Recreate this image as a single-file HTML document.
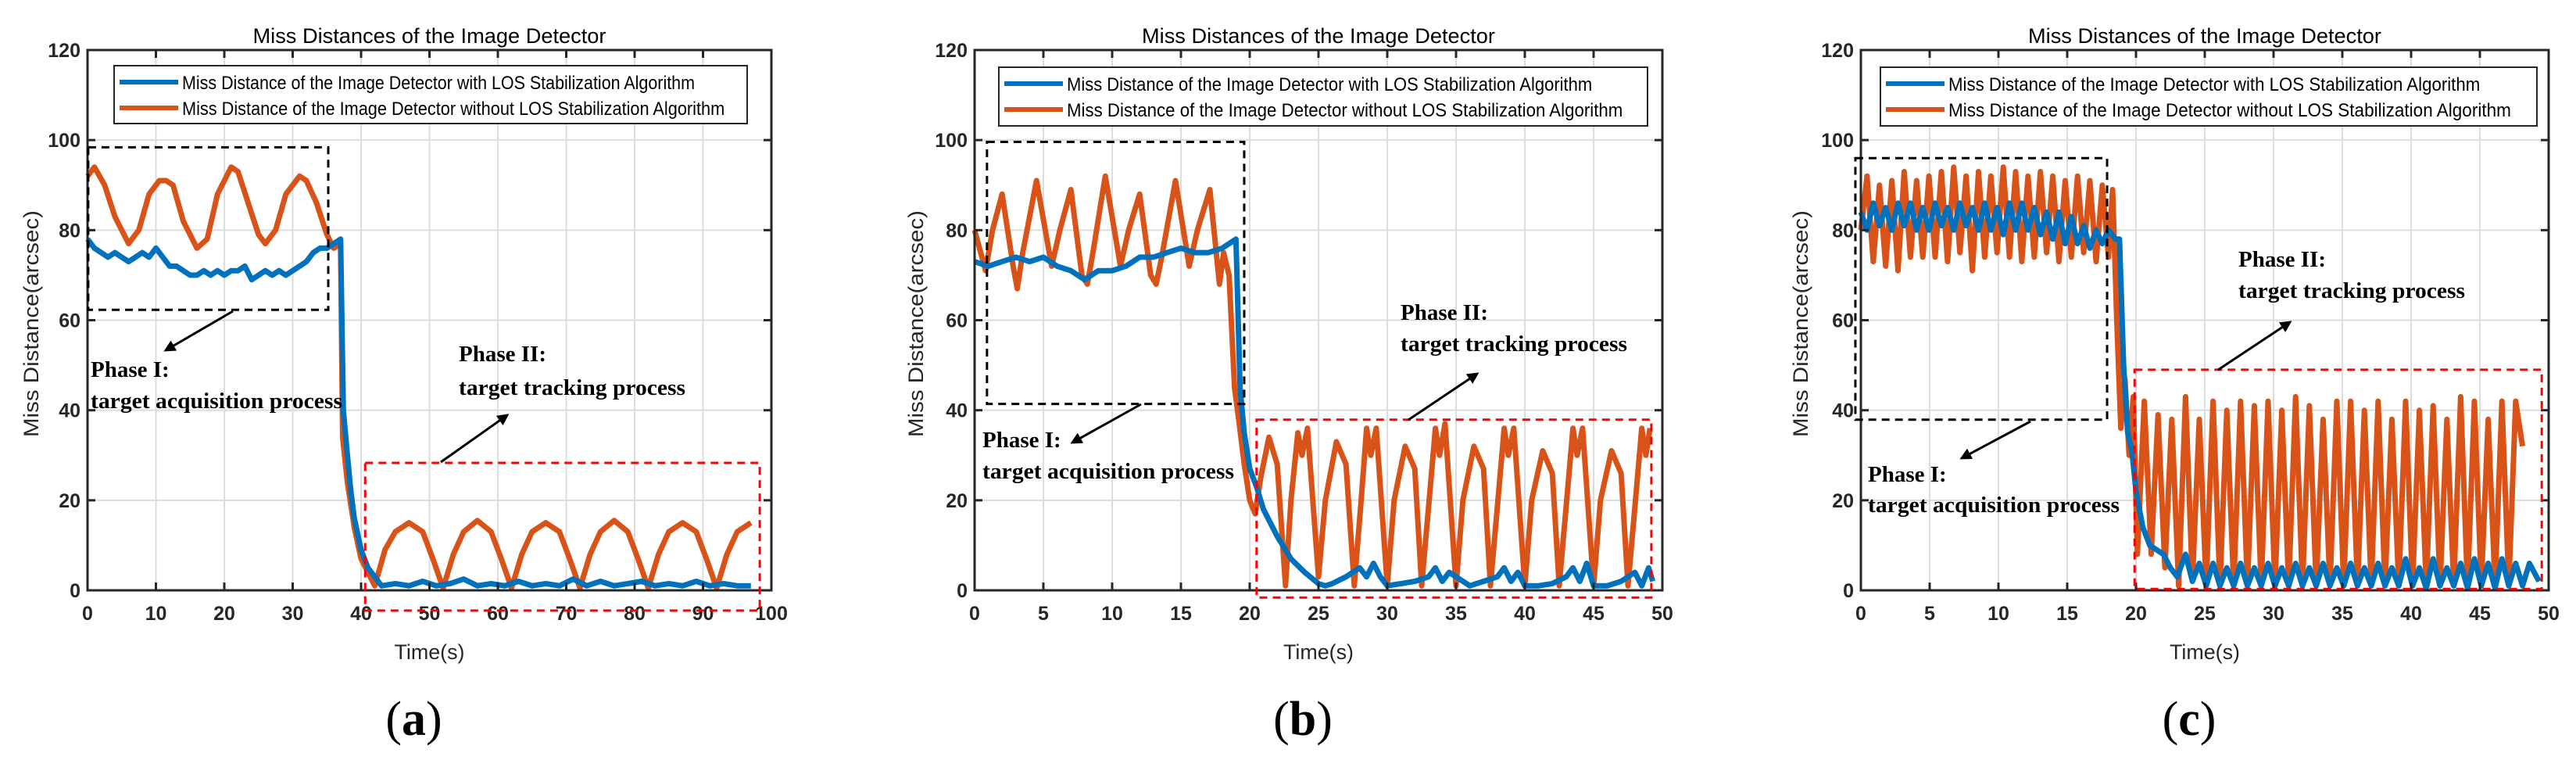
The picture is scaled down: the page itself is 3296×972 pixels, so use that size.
<!DOCTYPE html>
<html><head><meta charset="utf-8">
<style>
html,body{margin:0;padding:0;background:#fff;}
svg{display:block;}
.tick{font-family:"Liberation Sans",Arial,sans-serif;font-size:25px;font-weight:bold;fill:#262626;}
.leg{font-family:"Liberation Sans",Arial,sans-serif;font-size:24px;fill:#000;}
.ttl{font-family:"Liberation Sans",Arial,sans-serif;font-size:27px;fill:#000;}
.lab{font-family:"Liberation Sans",Arial,sans-serif;font-size:27px;fill:#262626;}
.ph{font-family:"Liberation Serif","Times New Roman",serif;font-size:29px;font-weight:bold;fill:#000;}
.cap{font-family:"Liberation Serif","Times New Roman",serif;font-size:62px;fill:#000;}
</style></head>
<body>
<svg id="fig" width="3296" height="972" viewBox="0 0 3296 972" xmlns="http://www.w3.org/2000/svg"></svg>
<script>
// ---------- Panel (a) data ----------
const aXTicks = [0,10,20,30,40,50,60,70,80,90,100];
const aOrangeT = [0,1,2.5,4,6,7.5,9,10.5,11.5,12.5,14,16,17.5,19,21,22,23.5,25,26,27.5,29,31,32,33.5,35,36,37,37.3,38,39,40,41,42,43.5,45,47,49,50.5,52,53.5,55,57,59,60.5,62,63.5,65,67,69,70.5,72,73.5,75,77,79,80.5,82,83.5,85,87,89,90.5,92,93.5,95,97];
const aOrange  = [92,94,90,83,77,80,88,91,91,90,82,76,78,88,94,93,86,79,77,80,88,92,91,86,79,76,77,34,24,14,7,4,1,9,13,15,13,7,0.5,8,13,15.5,13,7,0.5,8,13,15,13,7,0.5,8,13,15.5,13,7,0.5,8,13,15,13,7,0.5,8,13,15];
const aBlueT = [0,1,2,3,4,5,6,7,8,9,10,11,12,13,14,15,16,17,18,19,20,21,22,23,24,25,26,27,28,29,30,31,32,33,34,35,36,37,37.4,38,38.5,39,40,41,42,43,45,47,49,51,53,55,57,59,61,63,65,67,69,71,73,75,77,79,81,83,85,87,89,91,93,95,97];
const aBlue  = [78,76,75,74,75,74,73,74,75,74,76,74,72,72,71,70,70,71,70,71,70,71,71,72,69,70,71,70,71,70,71,72,73,75,76,76,77,78,40,30,22,16,9,5,3,1,1.5,1,2,1,1.5,2.5,1,1.5,1,2,1,1.5,1,2.5,1,2,1,1.5,2,1,1.5,1,2,1,1.5,1,1];

// ---------- Panel (b) data ----------
const bXTicks = [0,5,10,15,20,25,30,35,40,45,50];
const bOrangeT = [0,0.8,1.3,2,2.8,3.1,3.5,4.5,5.6,6.2,7,7.8,8.2,8.6,9.5,10.6,11.2,12,12.8,13.2,13.6,14.6,15.6,16.2,17.1,17.8,18.1,18.5,18.9,19.2,19.6,20,20.4,20.8,21.4,22,22.6,23,23.5,23.8,24.2,25,25.5,26.3,27,27.6,28.1,28.5,28.8,29.2,30,30.5,31.3,32,32.5,33.1,33.5,33.8,34.2,35,35.5,36.3,37,37.5,38.1,38.5,38.8,39.2,40,40.5,41.3,42,42.5,43.1,43.5,43.8,44.2,45,45.5,46.3,47,47.5,48.1,48.5,48.8,49.1];
const bOrange  = [80,71,80,88,72,67,75,91,72,80,89,70,68,75,92,72,80,88,70,68,74,91,72,80,89,68,75,70,45,38,28,20,17,25,34,28,1,20,35,30,36,3,20,33,28,1,20,36,30,36,1,20,32,27,1,22,36,30,37,1,20,32,27,1,22,36,30,36,1,20,31,26,1,22,36,30,36,1,20,31,26,1,22,36,30,36];
const bBlueT = [0,1,2,3,4,5,6,7,8,9,10,11,12,13,14,15,16,17,18,19,19.3,19.6,20,20.5,21,22,23,24,25,25.5,26,27,28,28.5,29,29.5,30,31,32,33,33.5,34,34.5,35,36,37,38,38.5,39,39.5,40,41,42,43,43.5,44,44.5,45,46,47,48,48.5,49,49.3];
const bBlue  = [73,72,73,74,73,74,72,71,69,71,71,72,74,74,75,76,75,75,76,78,45,35,27,23,18,12,7,4,1.5,1,1.5,3,5,3,6,3,1,1.5,2,3,5,2,4,3,1,2,3,5,2,4,1,1,1.5,3,5,2,6,1,1,2,4,1,5,2];

// ---------- Panel (c) data ----------
const cXTicks = [0,5,10,15,20,25,30,35,40,45,50];
const cOrangeT = [0,0.45,0.9,1.35,1.8,2.25,2.7,3.15,3.6,4.05,4.5,4.95,5.4,5.85,6.3,6.75,7.2,7.65,8.1,8.55,9,9.45,9.9,10.35,10.8,11.25,11.7,12.15,12.6,13.05,13.5,13.95,14.4,14.85,15.3,15.75,16.2,16.65,17.1,17.55,18,18.3,18.6,18.9,19.2,19.5,19.8,20.1,20.6,21.1,21.6,22.1,22.6,23.1,23.6,24.1,24.6,25.1,25.6,26.1,26.6,27.1,27.6,28.1,28.6,29.1,29.6,30.1,30.6,31.1,31.6,32.1,32.6,33.1,33.6,34.1,34.6,35.1,35.6,36.1,36.6,37.1,37.6,38.1,38.6,39.1,39.6,40.1,40.6,41.1,41.6,42.1,42.6,43.1,43.6,44.1,44.6,45.1,45.6,46.1,46.6,47.1,47.6,48.1,48.4];
const cOrange  = [80,92,73,90,72,91,71,93,74,91,74,92,74,93,73,94,75,92,71,93,74,92,75,94,74,93,73,92,74,93,75,92,73,91,74,92,75,91,73,90,74,89,60,36,47,30,43,8,42,8,39,5,38,1,43,2,38,1,42,1,40,1,42,1,41,1,42,1,40,1,43,1,41,1,38,1,42,1,42,1,40,1,42,1,38,1,42,1,40,1,41,1,38,1,43,0.5,42,1,38,1,42,1,42,32];
const cBlueT = [0,0.45,0.9,1.35,1.8,2.25,2.7,3.15,3.6,4.05,4.5,4.95,5.4,5.85,6.3,6.75,7.2,7.65,8.1,8.55,9,9.45,9.9,10.35,10.8,11.25,11.7,12.15,12.6,13.05,13.5,13.95,14.4,14.85,15.3,15.75,16.2,16.65,17.1,17.55,18,18.5,18.8,19.1,19.4,19.7,20,20.5,21,21.5,22,22.5,23,23.6,24.1,24.6,25.1,25.6,26.1,26.6,27.1,27.6,28.1,28.6,29.1,29.6,30.1,30.6,31.1,31.6,32.1,32.6,33.1,33.6,34.1,34.6,35.1,35.6,36.1,36.6,37.1,37.6,38.1,38.6,39.1,39.6,40.1,40.6,41.1,41.6,42.1,42.6,43.1,43.6,44.1,44.6,45.1,45.6,46.1,46.6,47.1,47.6,48.1,48.6,49.3];
const cBlue  = [84,80,86,81,85,80,86,81,86,80,85,80,86,81,85,80,86,81,85,80,86,80,85,79,86,80,86,80,85,79,84,78,84,77,83,77,81,76,80,77,80,78,78,50,35,31,22,14,10,9,8,5,3,8,2,6,1,6,1,5,1,6,1,5,1,6,1,5,1,6,1,5,1,6,1,5,1,6,1,5,1,6,1,5,1,7,1,5,0.5,7,1,5,1,6,0.5,7,1,6,0.5,7,1,6,1,6,2];

const yTicks = [0,20,40,60,80,100,120];
const legendLabels = ["Miss Distance of the Image Detector with LOS Stabilization Algorithm","Miss Distance of the Image Detector without LOS Stabilization Algorithm"];

const NS = "http://www.w3.org/2000/svg";
const svg = document.getElementById('fig');
function mk(tag, attrs, parent, text){
  const e = document.createElementNS(NS, tag);
  for (const k in attrs) e.setAttribute(k, attrs[k]);
  if (text !== undefined) e.textContent = text;
  (parent || svg).appendChild(e);
  return e;
}

const panels = [
  {id:'a', x0:112, x1:987, xmax:100, xt:aXTicks, oT:aOrangeT, o:aOrange, bT:aBlueT, b:aBlue,
   ylabX:40, leg:[146,956], blk:[0.1,35.2,98.4,62.3], red:[40.6,98.3,28.3,-4.5],
   ar1:[298,398,212,448], ar2:[564,591,649,531], p1:[116,482,522], p2:[587,462,505], cap:'a'},
  {id:'b', x0:1247, x1:2127, xmax:50, xt:bXTicks, oT:bOrangeT, o:bOrange, bT:bBlueT, b:bBlue,
   ylabX:1172, leg:[1278,2108], blk:[0.9,19.6,99.6,41.4], red:[20.5,49.2,37.9,-1.6],
   ar1:[1460,517,1372,566], ar2:[1802,537,1890,478], p1:[1257,572,612], p2:[1792,409,449], cap:'b'},
  {id:'c', x0:2381, x1:3261, xmax:50, xt:cXTicks, oT:cOrangeT, o:cOrange, bT:cBlueT, b:cBlue,
   ylabX:2304, leg:[2406,3246], blk:[-0.4,17.9,96.0,37.9], red:[19.9,49.5,49.0,0.3],
   ar1:[2598,539,2510,586], ar2:[2838,473,2930,412], p1:[2390,616,655], p2:[2864,341,381], cap:'c'}
];

mk('defs',{}).innerHTML = '<marker id="arr" viewBox="0 0 10 10" refX="8" refY="5" markerWidth="5" markerHeight="5" orient="auto"><path d="M0,0 L10,5 L0,10 z" fill="#000"/></marker>';

const Y0 = 755, Y1 = 64;
panels.forEach(p => {
  const g = mk('g', {});
  
  
  const X = v => p.x0 + (v / p.xmax) * (p.x1 - p.x0);
  const Y = v => Y0 - (v / 120) * (Y0 - Y1);
  const grid = mk('g', {stroke:'#dcdcdc','stroke-width':2}, g);
  
  
  p.xt.forEach(t => { if (t>0 && t<p.xmax) mk('line',{x1:X(t),x2:X(t),y1:Y1,y2:Y0},grid); });
  yTicks.forEach(t => { if (t>0 && t<120) mk('line',{x1:p.x0,x2:p.x1,y1:Y(t),y2:Y(t)},grid); });
  const mkLine = (T, V, color, name) => {
    const pts = T.map((t,i) => X(t).toFixed(1)+','+Y(V[i]).toFixed(1)).join(' ');
    const l = mk('polyline',{points:pts,fill:'none',stroke:color,'stroke-width':7,'stroke-linejoin':'round'}, g);
    
    
  };
  mkLine(p.oT, p.o, '#D95319', 'series-without-stabilization');
  mkLine(p.bT, p.b, '#0072BD', 'series-with-stabilization');
  const ax = mk('g',{stroke:'#262626','stroke-width':3,fill:'none'}, g);
  
  
  mk('rect',{x:p.x0,y:Y1,width:p.x1-p.x0,height:Y0-Y1},ax);
  p.xt.forEach(t => { mk('line',{x1:X(t),x2:X(t),y1:Y0,y2:Y0-10},ax); mk('line',{x1:X(t),x2:X(t),y1:Y1,y2:Y1+10},ax); });
  yTicks.forEach(t => { mk('line',{x1:p.x0,x2:p.x0+10,y1:Y(t),y2:Y(t)},ax); mk('line',{x1:p.x1,x2:p.x1-10,y1:Y(t),y2:Y(t)},ax); });
  p.xt.forEach(t => {
    const tx = mk('text',{x:X(t),y:793,'text-anchor':'middle',class:'tick'}, g, String(t));
    
    
  });
  yTicks.forEach(t => {
    const tx = mk('text',{x:p.x0-9,y:Y(t)+9,'text-anchor':'end',class:'tick'}, g, String(t));
    
    
  });
  const cx = (p.x0+p.x1)/2;
  const tt = mk('text',{x:cx,y:55,'text-anchor':'middle',class:'ttl',textLength:452,lengthAdjust:'spacingAndGlyphs'}, g, 'Miss Distances of the Image Detector');
  
  
  const xl = mk('text',{x:cx,y:843,'text-anchor':'middle',class:'lab',textLength:90,lengthAdjust:'spacingAndGlyphs'}, g, 'Time(s)');
  
  
  const yl = mk('text',{x:0,y:0,'text-anchor':'middle',class:'lab',fill:'#111',textLength:290,lengthAdjust:'spacingAndGlyphs',transform:'translate('+(p.ylabX+9)+',414) rotate(-90)'}, g, 'Miss Distance(arcsec)');
  
  
  const lg = mk('g',{}, g);
  
  
  const ly0 = p.id==='a'?84:86, ly1 = p.id==='a'?158:161;
  mk('rect',{x:p.leg[0],y:ly0,width:p.leg[1]-p.leg[0],height:ly1-ly0,fill:'#fff',stroke:'#262626','stroke-width':2},lg);
  const lw = (p.leg[1]-p.leg[0]);
  const tl = lw*0.857;
  [['#0072BD',0],['#D95319',1]].forEach(([c,i]) => {
    const yy = ly0 + 21 + i*33;
    const e = mk('line',{x1:p.leg[0]+7,x2:p.leg[0]+82,y1:yy,y2:yy,stroke:c,'stroke-width':6},lg);
    
    
    const t = mk('text',{x:p.leg[0]+87,y:yy+9,class:'leg',textLength:(i===0?tl*0.945:tl),lengthAdjust:'spacingAndGlyphs'},lg,legendLabels[i]);
    
    
  });
  const bk = mk('rect',{x:X(p.blk[0]),y:Y(p.blk[2]),width:X(p.blk[1])-X(p.blk[0]),height:Y(p.blk[3])-Y(p.blk[2]),fill:'none',stroke:'#000','stroke-width':3,'stroke-dasharray':'10 7'}, g);
  
  
  const rd = mk('rect',{x:X(p.red[0]),y:Y(p.red[2]),width:X(p.red[1])-X(p.red[0]),height:Y(p.red[3])-Y(p.red[2]),fill:'none',stroke:'#ff0000','stroke-width':3,'stroke-dasharray':'10 7'}, g);
  
  
  const a1 = mk('line',{x1:p.ar1[0],y1:p.ar1[1],x2:p.ar1[2],y2:p.ar1[3],stroke:'#000','stroke-width':3,'marker-end':'url(#arr)'}, g);
  
  
  const a2 = mk('line',{x1:p.ar2[0],y1:p.ar2[1],x2:p.ar2[2],y2:p.ar2[3],stroke:'#000','stroke-width':3,'marker-end':'url(#arr)'}, g);
  
  
  const t1 = mk('text',{x:p.p1[0],y:p.p1[1],class:'ph'}, g, 'Phase I:');
  
  
  const t1b = mk('text',{x:p.p1[0],y:p.p1[2],class:'ph',textLength:322,lengthAdjust:'spacingAndGlyphs'}, g, 'target acquisition process');
  
  
  const t2 = mk('text',{x:p.p2[0],y:p.p2[1],class:'ph'}, g, 'Phase II:');
  
  
  const t2b = mk('text',{x:p.p2[0],y:p.p2[2],class:'ph',textLength:290,lengthAdjust:'spacingAndGlyphs'}, g, 'target tracking process');
  
  
  const cap = mk('text',{x:cx-20,y:940,'text-anchor':'middle',class:'cap'}, g);
  
  
  cap.innerHTML = '(<tspan font-weight="bold">' + p.cap + '</tspan>)';
});
</script>
</body></html>
